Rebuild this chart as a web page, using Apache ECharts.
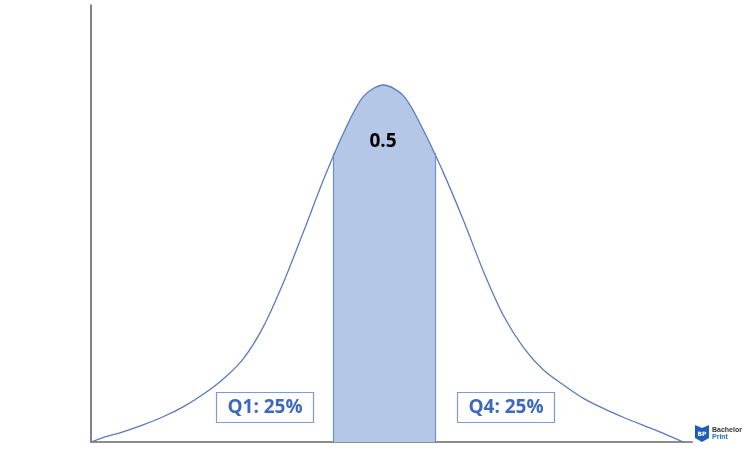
<!DOCTYPE html>
<html>
<head>
<meta charset="utf-8">
<script src="https://cdn.jsdelivr.net/npm/echarts@6/dist/echarts.min.js"></script>
<style>html,body{margin:0;padding:0;background:#fff;}#c{width:750px;height:450px;}</style>
</head>
<body>
<div id="c"></div>
<script>
// curve (x in sigma-like units, y as density)
var xVals = [-3.65, -3.5, -3.25, -3.0, -2.75, -2.5, -2.25, -2.0, -1.75, -1.5, -1.25, -1.0, -0.75, -0.5, -0.25, 0, 0.25, 0.5, 0.75, 1.0, 1.25, 1.5, 1.75, 2.0, 2.25, 2.5, 2.75, 3.0, 3.25, 3.5, 3.74];
var yVals = [0, 0.0050, 0.0114, 0.0192, 0.0282, 0.0393, 0.0533, 0.0704, 0.0930, 0.1287, 0.1780, 0.2346, 0.2928, 0.3451, 0.3862, 0.399, 0.3868, 0.3482, 0.3005, 0.2473, 0.1901, 0.1408, 0.1052, 0.0801, 0.0634, 0.0485, 0.0373, 0.0274, 0.0183, 0.0094, 0];
var shadeFrom = -0.626, shadeTo = 0.643;
var shadeFromY = 0.3226, shadeToY = 0.3230;
var centerLabel = '0.5';
var leftLabel = 'Q1: 25%';
var rightLabel = 'Q4: 25%';

var curve = xVals.map(function (x, i) { return [x, yVals[i]]; });

var chart = echarts.init(document.getElementById('c'));
var lineColor = '#5b7bc0';
var boxColor = '#7b9ad8';
var txtBlue = '#3d69bd';
chart.setOption({
  animation: false,
  grid: { left: 91, right: 58, top: 5, bottom: 8 },
  xAxis: {
    type: 'value', min: -3.65, max: 3.85,
    axisLine: { onZero: false, lineStyle: { color: '#8c8c8c', width: 2 } },
    axisTick: { show: false }, axisLabel: { show: false }, splitLine: { show: false }
  },
  yAxis: {
    type: 'value', min: 0, max: 0.4884,
    axisLine: { show: true, onZero: false, lineStyle: { color: '#5a5a5a', width: 1.5 } },
    axisTick: { show: false }, axisLabel: { show: false }, splitLine: { show: false }
  },
  visualMap: {
    show: false, type: 'piecewise', seriesIndex: 0, dimension: 0,
    pieces: [{ gt: shadeFrom, lte: shadeTo, color: '#b4c7e7' }],
    outOfRange: { color: 'rgba(255,255,255,0)' }
  },
  series: [
    {
      type: 'line', data: curve, smooth: 0.3, symbol: 'none',
      lineStyle: { width: 0 }, areaStyle: { opacity: 1 }, z: 1,
      markLine: {
        symbol: 'none', silent: true, label: { show: false },
        lineStyle: { color: '#6a8fd4', width: 1.2, type: 'solid' },
        data: [
          [{ coord: [shadeFrom, 0] }, { coord: [shadeFrom, shadeFromY] }],
          [{ coord: [shadeTo, 0] }, { coord: [shadeTo, shadeToY] }]
        ]
      }
    },
    {
      type: 'line', data: curve, smooth: 0.3, symbol: 'none',
      lineStyle: { color: lineColor, width: 1.3 }, z: 3
    }
  ],
  graphic: [
    { type: 'text', x: 383, y: 142, z: 10, style: { text: centerLabel, font: 'bold 19px "Open Sans"', fill: '#000', align: 'center', verticalAlign: 'middle' } },
    { type: 'rect', shape: { x: 216.5, y: 392.5, width: 97, height: 30 }, style: { fill: '#fff', stroke: boxColor, lineWidth: 1.2 }, z: 10 },
    { type: 'text', x: 265, y: 408, z: 11, style: { text: leftLabel, font: 'bold 19px "Open Sans"', fill: txtBlue, align: 'center', verticalAlign: 'middle' } },
    { type: 'rect', shape: { x: 457.5, y: 392.5, width: 97, height: 30 }, style: { fill: '#fff', stroke: boxColor, lineWidth: 1.2 }, z: 10 },
    { type: 'text', x: 506, y: 408, z: 11, style: { text: rightLabel, font: 'bold 19px "Open Sans"', fill: txtBlue, align: 'center', verticalAlign: 'middle' } },
    { type: 'polygon', shape: { points: [[695, 425], [702, 428], [709, 425], [709, 438], [702, 442], [695, 438]] }, style: { fill: '#1f5fb8' }, z: 10 },
    { type: 'text', x: 702, y: 434, z: 11, style: { text: 'BP', font: 'bold 6px "DejaVu Sans"', fill: '#fff', align: 'center', verticalAlign: 'middle' } },
    { type: 'text', x: 712, y: 430, z: 11, style: { text: 'Bachelor', font: 'bold 7px "Liberation Sans"', fill: '#333', verticalAlign: 'middle' } },
    { type: 'text', x: 712, y: 437, z: 11, style: { text: 'Print', font: 'bold 7px "Liberation Sans"', fill: '#2a6fd0', verticalAlign: 'middle' } }
  ]
});
</script>
</body>
</html>
